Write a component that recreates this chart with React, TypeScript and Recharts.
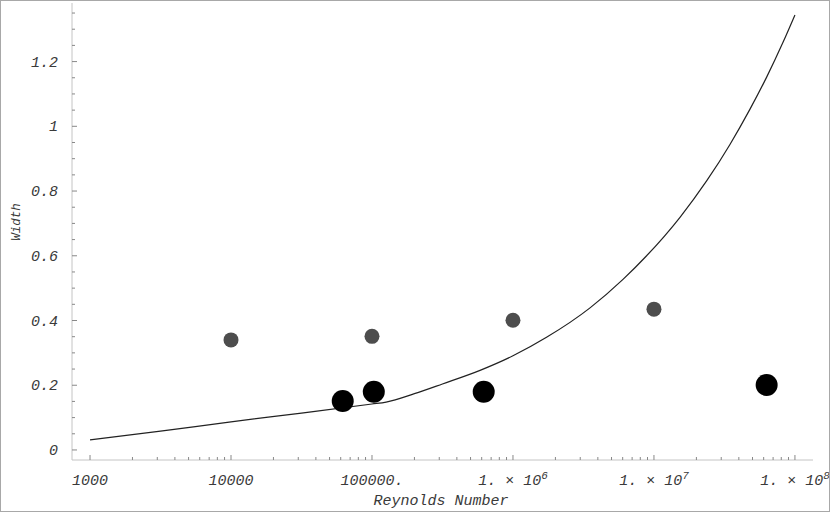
import React from "react";
import {
  ComposedChart,
  Line,
  Scatter,
  XAxis,
  YAxis,
} from "recharts";

const curve = [
  { re: 1000, w: 0.031 },
  { re: 3162, w: 0.058 },
  { re: 10000, w: 0.087 },
  { re: 31620, w: 0.114 },
  { re: 100000, w: 0.142 },
  { re: 126000, w: 0.148 },
  { re: 200000, w: 0.174 },
  { re: 316000, w: 0.204 },
  { re: 584000, w: 0.246 },
  { re: 1000000, w: 0.291 },
  { re: 1730000, w: 0.348 },
  { re: 3520000, w: 0.439 },
  { re: 6030000, w: 0.527 },
  { re: 8870000, w: 0.6 },
  { re: 15300000, w: 0.719 },
  { re: 23700000, w: 0.832 },
  { re: 34600000, w: 0.944 },
  { re: 48000000, w: 1.053 },
  { re: 63000000, w: 1.152 },
  { re: 82600000, w: 1.261 },
  { re: 100000000, w: 1.344 },
];

const smallPoints = [
  { re: 10000, w: 0.34 },
  { re: 100000, w: 0.351 },
  { re: 1000000, w: 0.401 },
  { re: 10000000, w: 0.435 },
];

const bigPoints = [
  { re: 62000, w: 0.151 },
  { re: 103000, w: 0.18 },
  { re: 620000, w: 0.18 },
  { re: 63000000, w: 0.201 },
];

const xMajor = [1000, 10000, 100000, 1000000, 10000000, 100000000];
const xTickLabels = ["1000", "10000", "100000.", "1. \u00d7 10^6", "1. \u00d7 10^7", "1. \u00d7 10^8"];
const minorMult = [2, 3, 4, 5, 6, 7, 8, 9];
const xTicks = [
  ...xMajor,
  ...xMajor.slice(0, -1).flatMap((d) => minorMult.map((k) => k * d)),
];

const yMajor = [0, 0.2, 0.4, 0.6, 0.8, 1, 1.2];
const yTickLabels = ["0", "0.2", "0.4", "0.6", "0.8", "1", "1.2"];
const yMinor = [0.05, 0.1, 0.15, 0.25, 0.3, 0.35, 0.45, 0.5, 0.55, 0.65, 0.7, 0.75, 0.85, 0.9, 0.95, 1.05, 1.1, 1.15, 1.25, 1.3, 1.35];
const yTicks = [...yMajor, ...yMinor];

const FONT = "'Liberation Mono', 'DejaVu Sans Mono', monospace";
const TXT = "#3a3a3a";
const AXIS = "#c4c4c4";

const XTick = (props: any) => {
  const { x, y, payload, top } = props;
  const v = payload.value;
  const i = xMajor.indexOf(v);
  const len = i >= 0 ? 5 : 3;
  if (top) {
    return <line x1={x} x2={x} y1={y} y2={y + len} stroke="#888" strokeWidth={1} />;
  }
  let label: React.ReactNode = null;
  if (i >= 0) {
    const [base, exp] = xTickLabels[i].split("^");
    label = (
      <text x={x} y={y + 25} textAnchor="middle" fontFamily={FONT} fontStyle="italic" fontSize={15} fill={TXT}>
        {base}
        {exp && (
          <tspan dy={-6} fontSize={11}>
            {exp}
          </tspan>
        )}
      </text>
    );
  }
  return (
    <g>
      <line x1={x} x2={x} y1={y} y2={y - len} stroke="#888" strokeWidth={1} />
      {label}
    </g>
  );
};

const YTick = (props: any) => {
  const { x, y, payload } = props;
  const i = yMajor.indexOf(payload.value);
  const len = i >= 0 ? 5 : 3;
  return (
    <g>
      <line x1={x} x2={x + len} y1={y} y2={y} stroke="#888" strokeWidth={1} />
      {i >= 0 && (
        <text x={x - 14} y={y + 5} textAnchor="end" fontFamily={FONT} fontStyle="italic" fontSize={15} fill={TXT}>
          {yTickLabels[i]}
        </text>
      )}
    </g>
  );
};

const dot = (r: number, fill: string) => (p: any) => <circle cx={p.cx} cy={p.cy} r={r} fill={fill} />;

export default function App() {
  const xDomain = [745, 134300000];
  const yDomain = [-0.031, 1.381];
  return (
    <div style={{ position: "absolute", left: 0, top: 0, width: 830, height: 512, background: "#fff" }}>
      <ComposedChart width={830} height={512} margin={{ top: 3, right: 17, left: 10, bottom: 0 }}>
        <XAxis
          dataKey="re"
          type="number"
          scale="log"
          domain={xDomain}
          allowDataOverflow
          ticks={xTicks}
          interval={0}
          tickSize={0}
          tickMargin={0}
          tickLine={false}
          height={52}
          stroke={AXIS}
          tick={<XTick />}
        />
        <XAxis
          xAxisId="top"
          orientation="top"
          type="number"
          scale="log"
          domain={xDomain}
          allowDataOverflow
          ticks={xTicks}
          interval={0}
          tickSize={0}
          tickMargin={0}
          tickLine={false}
          height={0}
          stroke={AXIS}
          tick={<XTick top />}
        />
        <YAxis
          type="number"
          domain={yDomain}
          allowDataOverflow
          ticks={yTicks}
          interval={0}
          tickSize={0}
          tickMargin={0}
          tickLine={false}
          width={62}
          stroke={AXIS}
          tick={<YTick />}
        />
        <YAxis
          yAxisId="right"
          orientation="right"
          type="number"
          domain={yDomain}
          allowDataOverflow
          tick={false}
          tickLine={false}
          width={0}
          stroke={AXIS}
        />
        <Line
          data={curve}
          dataKey="w"
          type="monotone"
          stroke="#222"
          strokeWidth={1.2}
          dot={false}
          isAnimationActive={false}
        />
        <Scatter data={smallPoints} dataKey="w" shape={dot(7.5, "#4d4d4d")} isAnimationActive={false} />
        <Scatter data={bigPoints} dataKey="w" shape={dot(11, "#000")} isAnimationActive={false} />
      </ComposedChart>
      <svg width={830} height={512} style={{ position: "absolute", left: 0, top: 0, pointerEvents: "none" }}>
        <rect x={0.5} y={0.5} width={829} height={511} fill="none" stroke="#a8a8a8" strokeWidth={1} />
        <text x={441} y={505} textAnchor="middle" fontFamily={FONT} fontStyle="italic" fontSize={15} fill={TXT}>
          Reynolds Number
        </text>
        <text transform="translate(20,222) rotate(-90)" textAnchor="middle" fontFamily={FONT} fontStyle="italic" fontSize={12.5} fill={TXT}>
          Width
        </text>
      </svg>
    </div>
  );
}
